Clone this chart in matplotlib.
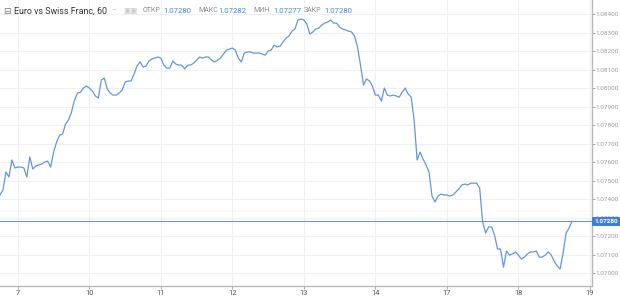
import matplotlib
matplotlib.use("Agg")
import matplotlib.pyplot as plt

plt.rcParams["font.family"] = ["Roboto", "DejaVu Sans"]

# hourly close prices, EUR/CHF 60 min
prices = [
    1.07422, 1.07449, 1.07546, 1.07519, 1.07611, 1.07568, 1.07573, 1.07573, 1.07568, 1.07519,
    1.07627, 1.07562, 1.07578, 1.07584, 1.07589, 1.07600, 1.07605, 1.07573, 1.07654, 1.07708,
    1.07746, 1.07751, 1.07805, 1.07827, 1.07870, 1.07935, 1.07973, 1.07978, 1.08000, 1.08011,
    1.08000, 1.07984, 1.07957, 1.07946, 1.08043, 1.08054, 1.07995, 1.07973, 1.07962, 1.07962,
    1.07973, 1.07989, 1.08032, 1.08038, 1.08038, 1.08076, 1.08119, 1.08141, 1.08114, 1.08119,
    1.08146, 1.08157, 1.08162, 1.08168, 1.08162, 1.08124, 1.08108, 1.08108, 1.08146, 1.08130,
    1.08124, 1.08124, 1.08103, 1.08124, 1.08124, 1.08135, 1.08151, 1.08168, 1.08162, 1.08168,
    1.08168, 1.08151, 1.08141, 1.08151, 1.08162, 1.08184, 1.08205, 1.08211, 1.08216, 1.08205,
    1.08162, 1.08141, 1.08189, 1.08195, 1.08195, 1.08189, 1.08189, 1.08189, 1.08184, 1.08178,
    1.08200, 1.08205, 1.08232, 1.08222, 1.08227, 1.08249, 1.08270, 1.08281, 1.08308, 1.08319,
    1.08368, 1.08373, 1.08368, 1.08346, 1.08292, 1.08303, 1.08319, 1.08324, 1.08341, 1.08351,
    1.08357, 1.08368, 1.08351, 1.08351, 1.08330, 1.08319, 1.08314, 1.08308, 1.08303, 1.08281,
    1.08222, 1.08124, 1.08016, 1.08049, 1.08038, 1.08011, 1.07962, 1.07962, 1.07930, 1.08000,
    1.07962, 1.07957, 1.07962, 1.07957, 1.07951, 1.07978, 1.08000, 1.07968, 1.07951, 1.07827,
    1.07611, 1.07654, 1.07616, 1.07584, 1.07546, 1.07416, 1.07384, 1.07416, 1.07427, 1.07422,
    1.07422, 1.07416, 1.07422, 1.07438, 1.07454, 1.07476, 1.07481, 1.07476, 1.07486, 1.07486,
    1.07486, 1.07459, 1.07276, 1.07216, 1.07249, 1.07249, 1.07205, 1.07130, 1.07130, 1.07032,
    1.07119, 1.07097, 1.07103, 1.07114, 1.07097, 1.07076, 1.07086, 1.07103, 1.07114, 1.07114,
    1.07119, 1.07086, 1.07086, 1.07097, 1.07114, 1.07097, 1.07065, 1.07038, 1.07022, 1.07108,
    1.07216, 1.07243, 1.07280,
]
day_labels = ["7", "10", "11", "12", "13", "14", "17", "18", "19"]
day_pos = [6, 30, 54, 78, 102, 126, 150, 174, 198]
y_ticks = [1.070 + 0.001 * k for k in range(15)]
last_price = 1.07280
header = [("ОТКР", "1.07280"), ("МАКС", "1.07282"), ("МИН", "1.07277"), ("ЗАКР", "1.07280")]

line_col = "#6196e3"
grid_col = "#eef0f3"

fig = plt.figure(figsize=(6.2, 2.99), dpi=100)
ax = fig.add_axes([0, 13 / 299, 592 / 620, 286 / 299])

ax.plot(range(len(prices)), prices, color=line_col, lw=0.9, zorder=3)
ax.axhline(last_price, color=line_col, lw=0.8, zorder=2)

ax.set_xlim(0, 198.7)
ax.set_ylim(1.06930, 1.08476)
ax.set_xticks(day_pos)
ax.set_xticklabels(day_labels)
ax.set_yticks(y_ticks)
ax.set_yticklabels(["%.5f" % v for v in y_ticks])
ax.yaxis.tick_right()
ax.grid(True, color=grid_col, lw=0.8)
ax.tick_params(axis="both", colors="#9a9a9a", labelsize=4.6, length=1.8, width=0.6, pad=1)
ax.tick_params(axis="x", labelcolor="#555555", labelsize=5.4, pad=0.8)
for s in ["top", "left"]:
    ax.spines[s].set_visible(False)
for s in ["right", "bottom"]:
    ax.spines[s].set_color("#b8b8b8")
    ax.spines[s].set_linewidth(1.0)

# current price marker on the right scale
ax.text(1.0035, last_price, "%.5f" % last_price, transform=ax.get_yaxis_transform(),
        ha="left", va="center", fontsize=4.6, color="white", fontweight="bold",
        bbox=dict(boxstyle="square,pad=0.3", fc="#3d7fd9", ec="none"), zorder=10, clip_on=False)

# header line
yh = 1 - 11 / 299
fig.text(3 / 620, yh, "⊟", fontsize=6.5, color="#777777", va="center", family="DejaVu Sans")
fig.text(14 / 620, yh, "Euro vs Swiss Franc, 60", fontsize=6.4, color="#333333", va="center")
fig.text(111 / 620, yh, "–", fontsize=5, color="#aaaaaa", va="center")
fig.text(123 / 620, yh, "▣▣", fontsize=5.5, color="#c8c8c8", va="center", family="DejaVu Sans")
xs = [143, 198, 253, 304]
for (lab, val), x in zip(header, xs):
    fig.text(x / 620, yh, lab, fontsize=5.0, color="#8a8a8a", va="center")
    fig.text((x + 20) / 620, yh, val, fontsize=5.6, color="#4a88dc", va="center")

fig.savefig("out.png", dpi=100)
